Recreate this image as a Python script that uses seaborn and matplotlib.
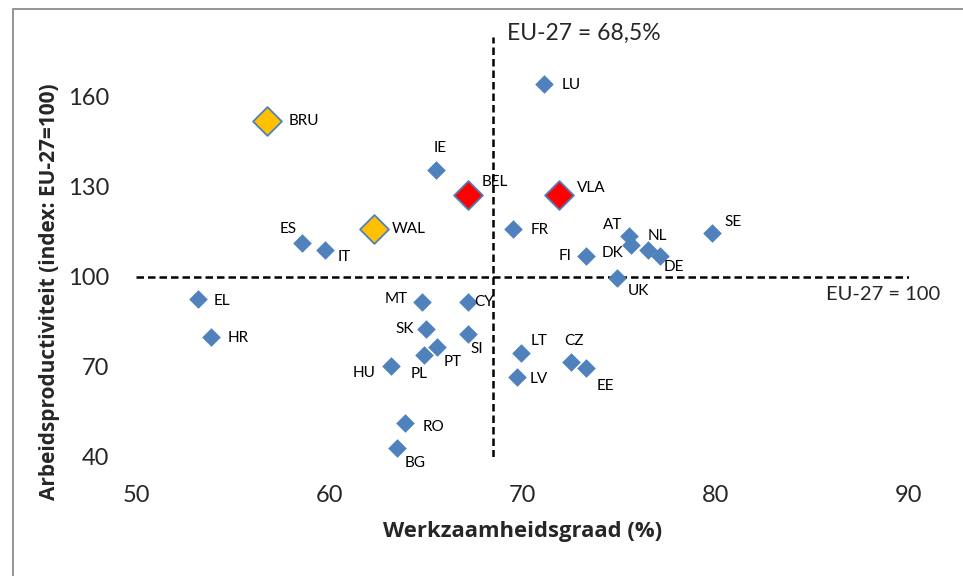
import numpy as np
import pandas as pd
import seaborn as sns
import matplotlib.pyplot as plt
from matplotlib.patches import Rectangle

# data
countries = ["LU", "IE", "ES", "IT", "FR", "AT", "DK", "NL", "DE", "FI", "SE", "UK",
             "EL", "HR", "MT", "CY", "SK", "SI", "PT", "PL", "HU", "RO", "BG",
             "LT", "LV", "CZ", "EE"]
employment = [71.1, 65.5, 58.6, 59.8, 69.5, 75.5, 75.6, 76.5, 77.1, 73.3, 79.8, 74.9,
              53.2, 53.9, 64.8, 67.2, 65.0, 67.2, 65.6, 64.9, 63.2, 63.9, 63.5,
              69.9, 69.7, 72.5, 73.3]
productivity = [164.2, 135.8, 111.3, 108.9, 116.0, 113.7, 110.6, 109.1, 107.0, 107.1, 114.7, 99.8,
                92.6, 79.9, 91.7, 91.7, 82.6, 81.1, 76.7, 73.9, 70.3, 51.3, 43.0,
                74.5, 66.7, 71.7, 69.8]

regions_red = ["BEL", "VLA"]
employment_red = [67.2, 71.9]
productivity_red = [127.2, 127.2]

regions_gold = ["BRU", "WAL"]
employment_gold = [56.8, 62.3]
productivity_gold = [152.0, 115.9]

EU_EMPLOYMENT = 68.5
EU_PRODUCTIVITY = 100

# label offsets in pixels (dx, dy, ha)
label_pos = {
    "LU": (18, 1, "left"), "IE": (5, -22, "center"), "ES": (-14, -14, "center"),
    "IT": (12, 7, "left"), "FR": (18, 1, "left"), "AT": (-6, -11, "right"),
    "DK": (-7, 8, "right"), "NL": (0, -14, "left"), "DE": (4, 11, "left"),
    "FI": (-15, 0, "right"), "SE": (13, -11, "left"), "UK": (11, 13, "left"),
    "EL": (16, 2, "left"), "HR": (16, 1, "left"), "MT": (-14, -3, "right"),
    "CY": (6, 0, "left"), "SK": (-12, 0, "right"), "SI": (2, 15, "left"),
    "PT": (6, 15, "left"), "PL": (-13, 19, "left"), "HU": (-16, 7, "right"),
    "RO": (18, 4, "left"), "BG": (8, 15, "left"), "LT": (10, -12, "left"),
    "LV": (13, 2, "left"), "CZ": (3, -21, "center"), "EE": (10, 18, "left"),
    "BEL": (13, -13, "left"), "VLA": (18, -7, "left"),
    "BRU": (21, 0, "left"), "WAL": (18, 0, "left"),
}

df = pd.DataFrame({"land": countries, "x": employment, "y": productivity})
df_red = pd.DataFrame({"land": regions_red, "x": employment_red, "y": productivity_red})
df_gold = pd.DataFrame({"land": regions_gold, "x": employment_gold, "y": productivity_gold})

sns.set_style("white")
plt.rcParams["font.family"] = ["Lato", "DejaVu Sans"]

fig = plt.figure(figsize=(9.63, 5.76), dpi=100)
ax = fig.add_axes([0.1412, 0.2066, 0.8027, 0.7292])

blue = "#4F81BD"
sns.scatterplot(data=df, x="x", y="y", marker="D", s=90, color=blue,
                edgecolor=blue, linewidth=0, ax=ax, zorder=3)
sns.scatterplot(data=df_red, x="x", y="y", marker="D", s=215, color="#FF0000",
                edgecolor=blue, linewidth=1.3, ax=ax, zorder=3)
sns.scatterplot(data=df_gold, x="x", y="y", marker="D", s=215, color="#FFC000",
                edgecolor=blue, linewidth=1.3, ax=ax, zorder=3)

ax.axhline(EU_PRODUCTIVITY, color="black", lw=1.8, ls=(0, (3, 1.6)), zorder=2)
ax.axvline(EU_EMPLOYMENT, color="black", lw=1.8, ls=(0, (3, 1.6)), zorder=2)

for d in (df, df_red, df_gold):
    for _, r in d.iterrows():
        dx, dy, ha = label_pos[r["land"]]
        ax.annotate(r["land"], (r["x"], r["y"]), xytext=(dx, -dy),
                    textcoords="offset pixels", ha=ha, va="center",
                    fontsize=11, color="black", zorder=4)

ax.text(69.18, 181.1, "EU-27 = 68,5%", fontsize=16.5, ha="left", va="center", clip_on=False)
ax.text(85.73, 94.2, "EU-27 = 100", fontsize=14.5, ha="left", va="center", clip_on=False)

ax.set_xlim(50, 90)
ax.set_ylim(40, 180)
ax.set_xticks([50, 60, 70, 80, 90])
ax.set_yticks([40, 70, 100, 130, 160])
ax.tick_params(axis="x", labelsize=17, pad=20, length=0)
ax.tick_params(axis="y", labelsize=17, pad=19, length=0)
for s in ax.spines.values():
    s.set_visible(False)

ax.set_xlabel("Werkzaamheidsgraad (%)", fontsize=15.8, fontweight="bold",
              family=["Open Sans", "DejaVu Sans"], labelpad=11)
ax.set_ylabel("Arbeidsproductiviteit (index: EU-27=100)", fontsize=15,
              fontweight="bold", family=["Open Sans", "DejaVu Sans"])
ax.yaxis.set_label_coords(-0.098, 0.393)

fig.patches.append(Rectangle((13 / 963, -0.05), 1.0, 1 - 9 / 576 + 0.05,
                             transform=fig.transFigure, fill=False,
                             edgecolor="#8C8C8C", lw=1.3))

fig.savefig("out.png", dpi=100)
